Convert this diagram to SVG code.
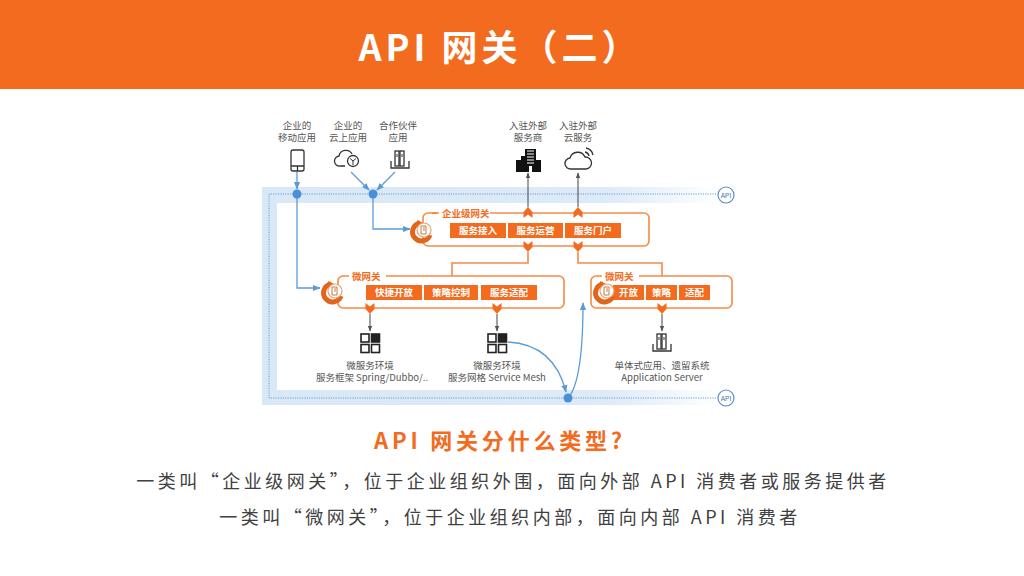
<svg xmlns="http://www.w3.org/2000/svg" width="1024" height="576" viewBox="0 0 1024 576">
<style>
.cjk{font-family:"Noto Sans CJK SC","Noto Sans",sans-serif}
.lbl{font-family:"Noto Sans CJK SC","Noto Sans",sans-serif;font-size:9.5px;fill:#555;text-anchor:middle}
.gwl{font-family:"Noto Sans CJK SC",sans-serif;font-size:9.5px;font-weight:bold;fill:#F36B1E}
.btn{fill:#F36B1E}
.btt{font-family:"Noto Sans CJK SC",sans-serif;font-size:9.5px;font-weight:bold;fill:#fff;text-anchor:middle}
.box{fill:none;stroke:#F58A45;stroke-width:1.6}
.ol{fill:none;stroke:#F58A45;stroke-width:1.6}
.bl{fill:none;stroke:#5B9BD5;stroke-width:1.3}
.gl{fill:none;stroke:#555;stroke-width:1.1}
.dot{fill:#4A8FD8}
.dash{fill:none;stroke:#6A9FD6;stroke-width:1;stroke-dasharray:1.2 1.2}
.ico{fill:none;stroke:#333;stroke-width:1.3}
</style>
<defs>
<linearGradient id="bandH" x1="262" y1="0" x2="720" y2="0" gradientUnits="userSpaceOnUse">
<stop offset="0" stop-color="#D9E8F6"/>
<stop offset="0.75" stop-color="#DDEAF7"/>
<stop offset="1" stop-color="#DDEAF7" stop-opacity="0"/>
</linearGradient>
<marker id="ab" viewBox="0 0 10 10" refX="9" refY="5" markerWidth="6" markerHeight="6" orient="auto-start-reverse">
<path d="M0,1 L10,5 L0,9 Z" fill="#5B9BD5"/>
</marker>
<marker id="ag" viewBox="0 0 10 10" refX="9" refY="5" markerWidth="5" markerHeight="5" orient="auto-start-reverse">
<path d="M0,1 L10,5 L0,9 Z" fill="#555"/>
</marker>
<path id="chUp" d="M-4.5,5 L-4.5,-1 L0,-6 L4.5,-1 L4.5,5 L0,1.5 Z" fill="#F36B1E"/>
<path id="chDn" d="M-4.5,-5 L0,-1.5 L4.5,-5 L4.5,1 L0,6 L-4.5,1 Z" fill="#F36B1E"/>
<g id="gwIcon">
<path d="M-2,-8 A9,9 0 1 0 8,4" fill="none" stroke="#E0661C" stroke-width="5"/>
<path d="M-5,-11 L1,-8 L-4,-4 Z" fill="#E0661C"/>
<circle cx="2" cy="-1" r="7" fill="#fff" stroke="#E9A06E" stroke-width="1.2"/>
<path d="M-1,-5 L4,-5 L4,3 L-1,3 Z M1,-3 L3,-3 M1,-1 L3,-1" fill="none" stroke="#C77A45" stroke-width="1"/>
</g>
<g id="grid">
<rect x="-9" y="-9" width="8" height="8" fill="none" stroke="#222" stroke-width="1.6"/>
<rect x="1.5" y="-9" width="8" height="8" fill="#222" stroke="#222" stroke-width="1.6"/>
<rect x="-9" y="1.5" width="8" height="8" fill="none" stroke="#222" stroke-width="1.6"/>
<rect x="1.5" y="1.5" width="8" height="8" fill="none" stroke="#222" stroke-width="1.6"/>
</g>
<g id="server">
<rect x="-5" y="-9" width="4" height="15" class="ico"/>
<rect x="0" y="-9" width="4" height="15" class="ico"/>
<path d="M-9,1 L-9,8 L9,8 L9,1" class="ico"/>
<path d="M-3,-6 L-3,-3 M2,-6 L2,-3" stroke="#333" stroke-width="1"/>
</g>
</defs>

<rect width="1024" height="576" fill="#fff"/>
<g id="header">
<rect x="0" y="0" width="1024" height="89" fill="#F36B1E"/>
<text x="500" y="61" class="cjk" font-size="36" font-weight="bold" fill="#fff" text-anchor="middle" letter-spacing="4">API 网关（二）</text>
</g>

<g id="api-band">
<rect x="262" y="187" width="458" height="16" fill="url(#bandH)"/>
<rect x="262" y="390" width="458" height="15" fill="url(#bandH)"/>
<rect x="262" y="203" width="15" height="187" fill="#D9E8F6"/>
<path class="dash" d="M716,194 L269,194 L269,398 L716,398"/>
<g id="api-top">
<circle cx="726" cy="195" r="8" fill="#fff" stroke="#5B8CC8" stroke-width="1.2"/>
<text x="726" y="197.5" font-family="Liberation Sans,sans-serif" font-size="6.5" fill="#3F6FAF" text-anchor="middle">API</text>
</g>
<g id="api-bottom">
<circle cx="726" cy="398" r="8" fill="#fff" stroke="#5B8CC8" stroke-width="1.2"/>
<text x="726" y="400.5" font-family="Liberation Sans,sans-serif" font-size="6.5" fill="#3F6FAF" text-anchor="middle">API</text>
</g>
</g>

<g id="mobile-app">
<text class="lbl" x="297" y="129">企业的</text>
<text class="lbl" x="297" y="141">移动应用</text>
<rect x="291" y="150" width="13" height="21" rx="2" class="ico"/>
<path d="M291,166 L304,166 M297.5,166 L297.5,171" class="ico"/>
</g>
<g id="cloud-app">
<text class="lbl" x="348" y="129">企业的</text>
<text class="lbl" x="348" y="141">云上应用</text>
<path d="M345,166 L340,166 A5,5 0 0 1 339,156 A7,7 0 0 1 352,154" class="ico"/>
<circle cx="353" cy="161" r="5.5" class="ico"/>
<path d="M350,158.5 L353,161 L356,158.5 M353,161 L353,165" fill="none" stroke="#333" stroke-width="1"/>
</g>
<g id="partner-app">
<text class="lbl" x="398" y="129">合作伙伴</text>
<text class="lbl" x="398" y="141">应用</text>
<use href="#server" x="400" y="160"/>
</g>
<g id="ext-provider">
<text class="lbl" x="528" y="129">入驻外部</text>
<text class="lbl" x="528" y="141">服务商</text>
<path d="M516,172 L516,160 L521,160 L521,156 L525,156 L525,149 L536,149 L536,160 L541,160 L541,172 Z" fill="#111"/>
<path d="M527,151 h7 M527,154 h7 M527,157 h7 M527,160 h7 M527,163 h7" stroke="#fff" stroke-width="1"/>
<rect x="529" y="166" width="3" height="6" fill="#fff"/>
</g>
<g id="ext-cloud">
<text class="lbl" x="578" y="129">入驻外部</text>
<text class="lbl" x="578" y="141">云服务</text>
<path d="M571,169 A5.5,5.5 0 0 1 570,158 A8,8 0 0 1 585,157 A6,6 0 0 1 586,169 Z" class="ico"/>
<path d="M585,152 A5,5 0 0 1 589,156 M586,148 A9,9 0 0 1 593,155" class="ico"/>
</g>

<g id="connectors">
<path class="bl" d="M297,172 L297,189" marker-end="url(#ab)"/>
<path class="bl" d="M297,194 L297,288 L320,288" marker-end="url(#ab)"/>
<path class="bl" d="M351,172 L369,190" marker-end="url(#ab)"/>
<path class="bl" d="M395,172 L377,190" marker-end="url(#ab)"/>
<path class="bl" d="M373,194 L373,229 L410,229" marker-end="url(#ab)"/>
<path class="bl" d="M508,342 C545,344 560,368 566,392" marker-end="url(#ab)"/>
<path class="bl" d="M568,398 C580,385 583,340 583,303" marker-end="url(#ab)"/>
<path class="gl" d="M528,207 L528,173" marker-end="url(#ag)"/>
<path class="gl" d="M578,207 L578,173" marker-end="url(#ag)"/>
<path class="ol" d="M528,252 L528,263 L452,263 L452,276"/>
<path class="ol" d="M578,252 L578,263 L662,263 L662,276"/>
<path class="gl" d="M370,314 L370,331" marker-end="url(#ag)"/>
<path class="gl" d="M497,314 L497,331" marker-end="url(#ag)"/>
<path class="gl" d="M662,314 L662,331" marker-end="url(#ag)"/>
<circle class="dot" cx="297" cy="194" r="4.5"/>
<circle class="dot" cx="373" cy="194" r="4.5"/>
<circle class="dot" cx="568" cy="398" r="4.5"/>
</g>

<g id="enterprise-gateway">
<rect x="423" y="213" width="226" height="33" rx="5" class="box"/>
<rect x="439" y="207" width="51" height="12" fill="#fff"/>
<text class="gwl" x="442" y="217">企业级网关</text>
<rect x="432" y="212" width="5" height="2" fill="#F58A45"/>
<rect x="450" y="223" width="56" height="15" class="btn"/>
<rect x="508" y="223" width="55" height="15" class="btn"/>
<rect x="565" y="223" width="56" height="15" class="btn"/>
<text class="btt" x="478" y="234">服务接入</text>
<text class="btt" x="535.5" y="234">服务运营</text>
<text class="btt" x="593" y="234">服务门户</text>
<use href="#chUp" x="528" y="213"/>
<use href="#chUp" x="578" y="213"/>
<use href="#chDn" x="528" y="246"/>
<use href="#chDn" x="578" y="246"/>
<use href="#gwIcon" x="422" y="231"/>
</g>

<g id="micro-gateway-1">
<rect x="338" y="276" width="226" height="32" rx="5" class="box"/>
<rect x="349" y="270" width="37" height="12" fill="#fff"/>
<text class="gwl" x="352" y="280">微网关</text>
<rect x="366" y="285" width="56" height="15" class="btn"/>
<rect x="424" y="285" width="54" height="15" class="btn"/>
<rect x="481" y="285" width="56" height="15" class="btn"/>
<text class="btt" x="394" y="296">快捷开放</text>
<text class="btt" x="451" y="296">策略控制</text>
<text class="btt" x="509" y="296">服务适配</text>
<use href="#chDn" x="370" y="308"/>
<use href="#chDn" x="497" y="308"/>
<use href="#gwIcon" x="333" y="292"/>
</g>

<g id="micro-gateway-2">
<rect x="591" y="276" width="141" height="32" rx="5" class="box"/>
<rect x="602" y="270" width="37" height="12" fill="#fff"/>
<text class="gwl" x="605" y="280">微网关</text>
<rect x="613" y="285" width="31" height="15" class="btn"/>
<rect x="646" y="285" width="31" height="15" class="btn"/>
<rect x="679" y="285" width="31" height="15" class="btn"/>
<text class="btt" x="628.5" y="296">开放</text>
<text class="btt" x="661.5" y="296">策略</text>
<text class="btt" x="694.5" y="296">适配</text>
<use href="#chDn" x="662" y="308"/>
<use href="#gwIcon" x="605" y="292"/>
</g>

<g id="microservice-framework">
<use href="#grid" x="370" y="343"/>
<text class="lbl" x="370" y="369">微服务环境</text>
<text class="lbl" x="372" y="381">服务框架 Spring/Dubbo/..</text>
</g>
<g id="microservice-mesh">
<use href="#grid" x="497" y="343"/>
<text class="lbl" x="497" y="369">微服务环境</text>
<text class="lbl" x="497" y="381">服务网格 Service Mesh</text>
</g>
<g id="app-server">
<use href="#server" x="662" y="343"/>
<text class="lbl" x="662" y="369">单体式应用、遗留系统</text>
<text class="lbl" x="662" y="381">Application Server</text>
</g>

<g id="caption">
<text x="500" y="449" class="cjk" font-size="22" font-weight="bold" fill="#F36B1E" text-anchor="middle" letter-spacing="3.8">API 网关分什么类型?</text>
<text x="513" y="488" class="cjk" font-size="18" fill="#404040" text-anchor="middle" letter-spacing="3.5">一类叫“企业级网关”，位于企业组织外围，面向外部 API 消费者或服务提供者</text>
<text x="510" y="524" class="cjk" font-size="18" fill="#404040" text-anchor="middle" letter-spacing="3.5">一类叫“微网关”，位于企业组织内部，面向内部 API 消费者</text>
</g>
</svg>
